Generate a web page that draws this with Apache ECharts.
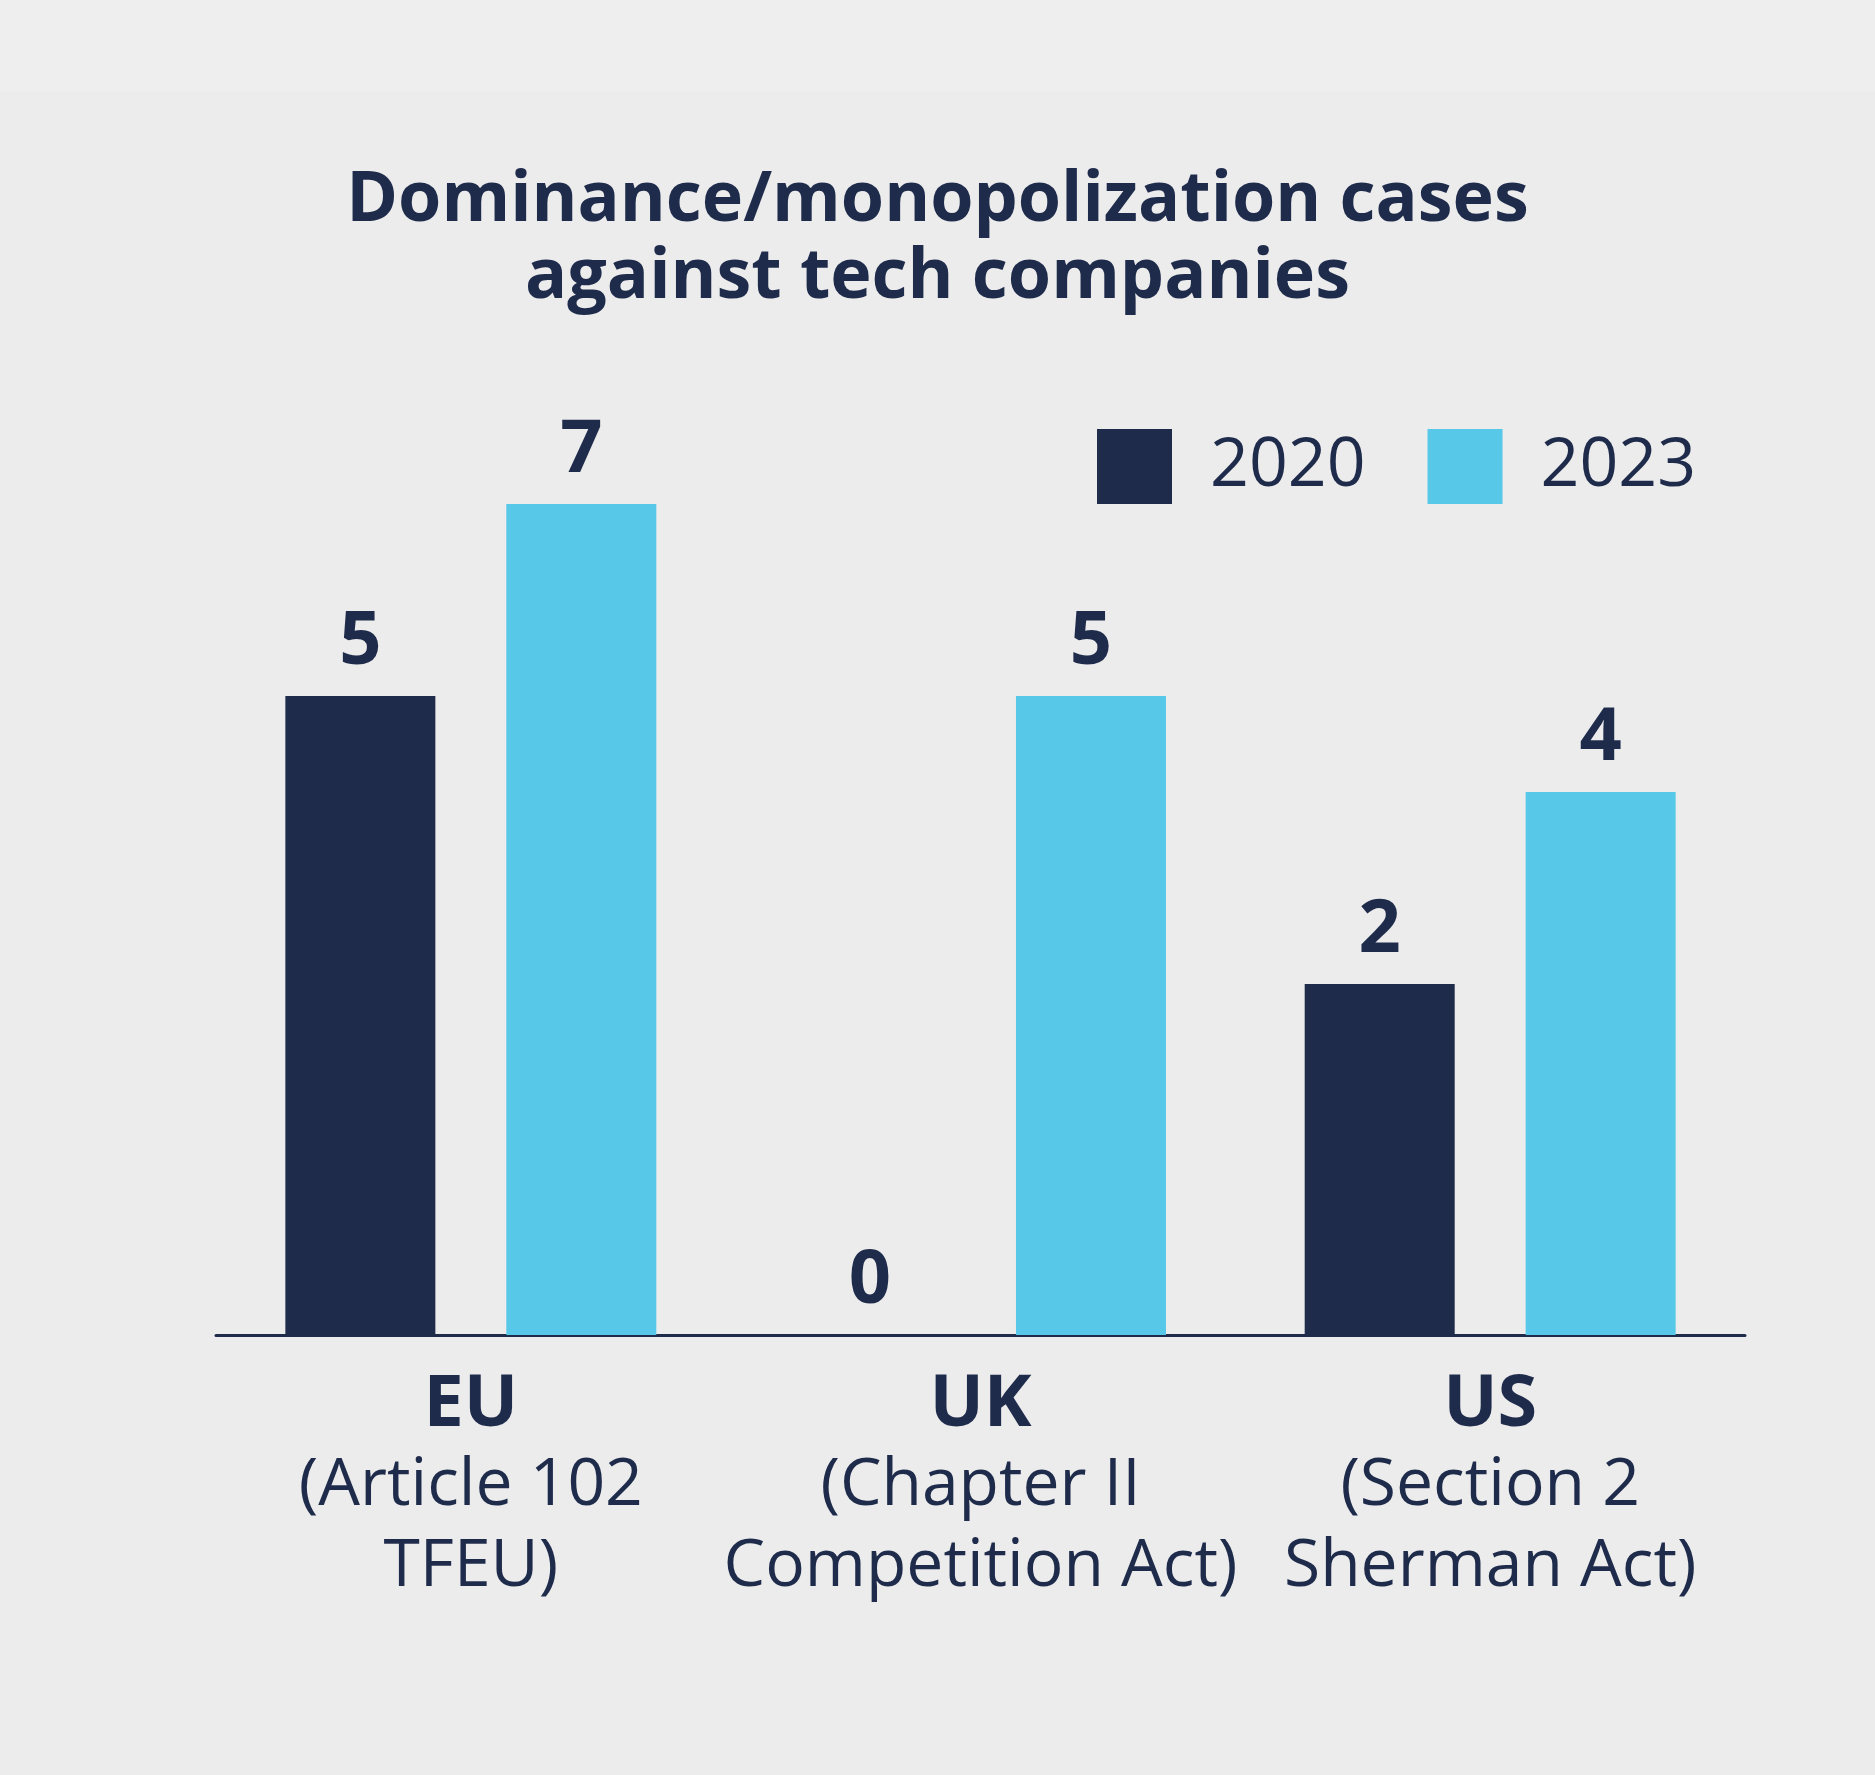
<!DOCTYPE html>
<html>
<head>
<meta charset="utf-8">
<script src="https://cdn.jsdelivr.net/npm/echarts@6/dist/echarts.min.js"></script>
<style>
html,body{margin:0;padding:0;background:#ececec;}
#chart{width:1875px;height:1775px;}
</style>
</head>
<body>
<div id="chart"></div>
<script>
// ---- data ----
const categories = ['EU', 'UK', 'US'];
const subtitleLine1 = ['(Article 102', '(Chapter II', '(Section 2'];
const subtitleLine2 = ['TFEU)', 'Competition Act)', 'Sherman Act)'];
const seriesNames = ['2020', '2023'];
const values2020 = [5, 0, 2];
const values2023 = [7, 5, 4];
const titleLines = ['Dominance/monopolization cases', 'against tech companies'];

// ---- style ----
const DARK = '#1e2b4b';
const LIGHT = '#57c8e8';
const FONT = "'Open Sans', 'Noto Sans', sans-serif";
const BAR_PLINTH = 1.65625; // visual base height of non-zero bars in the original design

const plinth = arr => arr.map(v => (v > 0 ? BAR_PLINTH : 0));

const chart = echarts.init(document.getElementById('chart'), null, {renderer: 'canvas'});

const valueLabel = {
  show: true,
  position: 'top',
  distance: 16,
  color: DARK,
  fontFamily: FONT,
  fontWeight: 'bold',
  fontSize: 74,
  formatter: p => String(p.value)
};

chart.setOption({
  backgroundColor: '#ececec',
  animation: false,
  graphic: [{
    type: 'rect', z: -10, silent: true,
    shape: {x: 0, y: 0, width: 1875, height: 92},
    style: {fill: '#eeeeee'}
  }],
  title: {
    text: titleLines.join('\n'),
    left: 'center',
    top: 163,
    padding: 0,
    textStyle: {
      color: DARK,
      fontFamily: FONT,
      fontWeight: 'bold',
      fontSize: 70,
      lineHeight: 77
    }
  },
  legend: {
    data: seriesNames,
    left: 1097,
    top: 429,
    padding: 0,
    itemWidth: 75,
    itemHeight: 75,
    itemGap: 62,
    icon: 'rect',
    itemStyle: {borderWidth: 0},
    textStyle: {
      color: DARK,
      fontFamily: FONT,
      fontSize: 68,
      padding: [0, 0, 0, 33]
    }
  },
  grid: {left: 216, right: 130, top: 375, bottom: 440, containLabel: false},
  xAxis: {
    type: 'category',
    data: categories,
    axisTick: {show: false},
    axisLine: {show: true, lineStyle: {color: DARK, width: 3}},
    axisLabel: {
      margin: 30,
      interval: 0,
      formatter: (val, idx) => '{b|' + val + '}\n{r|' + subtitleLine1[idx] + '}\n{r|' + subtitleLine2[idx] + '}',
      rich: {
        b: {fontFamily: FONT, fontWeight: 'bold', fontSize: 72, lineHeight: 81, color: DARK, align: 'center'},
        r: {fontFamily: FONT, fontSize: 66, lineHeight: 81, color: DARK, align: 'center'}
      }
    }
  },
  yAxis: {
    type: 'value',
    min: 0,
    max: 10,
    show: false,
    splitLine: {show: false}
  },
  series: [
    {
      name: 'base2020', type: 'bar', stack: 's2020', barWidth: 150, barGap: '47.3%',
      data: plinth(values2020), itemStyle: {color: DARK}, silent: true
    },
    {
      name: '2020', type: 'bar', stack: 's2020', barWidth: 150, barGap: '47.3%',
      data: values2020, itemStyle: {color: DARK}, label: valueLabel
    },
    {
      name: 'base2023', type: 'bar', stack: 's2023', barWidth: 150, barGap: '47.3%',
      data: plinth(values2023), itemStyle: {color: LIGHT}, silent: true
    },
    {
      name: '2023', type: 'bar', stack: 's2023', barWidth: 150, barGap: '47.3%',
      data: values2023, itemStyle: {color: LIGHT}, label: valueLabel
    }
  ]
});
</script>
</body>
</html>
